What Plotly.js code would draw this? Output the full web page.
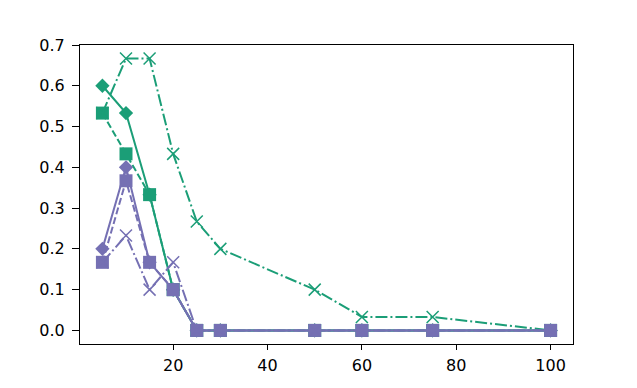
<!DOCTYPE html>
<html>
<head>
<meta charset="utf-8">
<script src="https://cdn.plot.ly/plotly-3.0.1.min.js"></script>
<style>
  html, body { margin: 0; padding: 0; background: #fff; }
  #chart { width: 637px; height: 388px; }
</style>
</head>
<body>
<div id="chart"></div>
<script>
// -------- DATA --------
const xValues = [5, 10, 15, 20, 25, 30, 50, 60, 75, 100];

const greenDiamond = [0.6, 0.533, 0.333, 0.1, 0, 0, 0, 0, 0, 0];
const greenSquare  = [0.533, 0.433, 0.333, 0.1, 0, 0, 0, 0, 0, 0];
const greenCross   = [0.533, 0.667, 0.667, 0.433, 0.267, 0.2, 0.1, 0.033, 0.033, 0];

const purpleDiamond = [0.2, 0.4, 0.167, 0.1, 0, 0, 0, 0, 0, 0];
const purpleSquare  = [0.167, 0.367, 0.167, 0.1, 0, 0, 0, 0, 0, 0];
const purpleCross   = [0.167, 0.233, 0.1, 0.167, 0, 0, 0, 0, 0, 0];

const xTicks = [20, 40, 60, 80, 100];
const yTicks = [0.0, 0.1, 0.2, 0.3, 0.4, 0.5, 0.6, 0.7];

// -------- STYLES --------
const GREEN = '#1b9e77';
const PURPLE = '#7570b3';
const DASHED = '7px,3px';
const DASHDOT = '12px,3px,2px,3px';

function series(y, color, symbol, dash) {
  const isCross = symbol === 'x-thin-open';
  return {
    x: xValues,
    y: y,
    type: 'scatter',
    mode: 'lines+markers',
    line: { color: color, width: 2, dash: dash },
    marker: {
      symbol: symbol,
      color: color,
      size: symbol === 'square' ? 13 : (isCross ? 12 : 11),
      line: { color: color, width: isCross ? 1.5 : 0 }
    },
    showlegend: false,
    hoverinfo: 'x+y'
  };
}

const traces = [
  series(greenDiamond, GREEN, 'diamond', 'solid'),
  series(greenSquare, GREEN, 'square', DASHED),
  series(greenCross, GREEN, 'x-thin-open', DASHDOT),
  series(purpleDiamond, PURPLE, 'diamond', 'solid'),
  series(purpleSquare, PURPLE, 'square', DASHED),
  series(purpleCross, PURPLE, 'x-thin-open', DASHDOT)
];

// -------- LAYOUT --------
const axisCommon = {
  showgrid: false,
  zeroline: false,
  showline: true,
  mirror: true,
  linecolor: '#000',
  linewidth: 1,
  ticks: 'outside',
  tickwidth: 1,
  tickcolor: '#000',
  tickfont: { family: 'DejaVu Sans, sans-serif', size: 16, color: '#000' }
};

const layout = {
  width: 637,
  height: 388,
  margin: { l: 80, r: 64, t: 45, b: 44 },
  paper_bgcolor: '#fff',
  plot_bgcolor: '#fff',
  xaxis: Object.assign({}, axisCommon, {
    range: [0.25, 104.75],
    ticklen: 5,
    ticklabelstandoff: 2,
    tickvals: xTicks,
    ticktext: xTicks.map(String)
  }),
  yaxis: Object.assign({}, axisCommon, {
    range: [-0.0333, 0.7],
    ticklen: 7,
    ticklabelstandoff: 4,
    tickvals: yTicks,
    ticktext: yTicks.map(v => v.toFixed(1))
  })
};

Plotly.newPlot('chart', traces, layout, { displayModeBar: false, staticPlot: true });
</script>
</body>
</html>
